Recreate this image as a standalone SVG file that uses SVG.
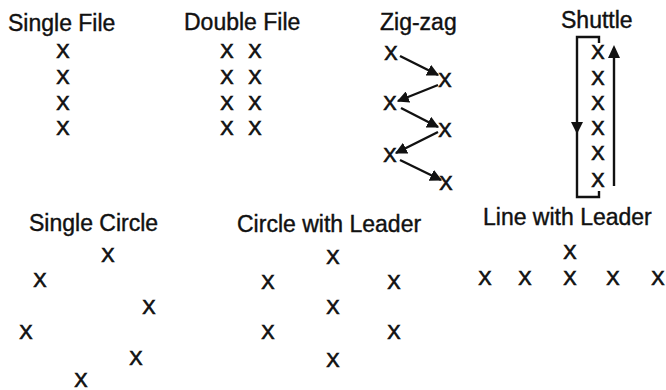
<svg xmlns="http://www.w3.org/2000/svg" width="666" height="390" viewBox="0 0 666 390">
<style>
.t{font-family:"Liberation Sans",Arial,sans-serif;font-size:23px;fill:#111;stroke:#111;stroke-width:0.4}
.x{font-family:"Liberation Sans",Arial,sans-serif;font-size:20px;fill:#111;stroke:#111;stroke-width:0.7;text-anchor:middle}
.ln{stroke:#111;stroke-width:2.4;fill:none}
</style>
<defs>
<marker id="ah" viewBox="0 0 10 10" refX="9" refY="5" markerWidth="5" markerHeight="5" markerUnits="strokeWidth" orient="auto">
<path d="M0,0 L10,5 L0,10 z" fill="#111"/>
</marker>
</defs>
<rect width="666" height="390" fill="#fff"/>
<g id="single-file">
<text class="t" x="8" y="31">Single File</text>
<text class="x" x="63" y="58">X</text>
<text class="x" x="63" y="84">X</text>
<text class="x" x="63" y="110">X</text>
<text class="x" x="63" y="135">X</text>
</g>
<g id="double-file">
<text class="t" x="184" y="30">Double File</text>
<text class="x" x="227" y="58">X</text><text class="x" x="255" y="58">X</text>
<text class="x" x="227" y="84">X</text><text class="x" x="255" y="84">X</text>
<text class="x" x="227" y="110">X</text><text class="x" x="255" y="110">X</text>
<text class="x" x="227" y="135">X</text><text class="x" x="255" y="135">X</text>
</g>
<g id="zig-zag">
<text class="t" x="380" y="30">Zig-zag</text>
<text class="x" x="391" y="60">X</text>
<text class="x" x="445" y="87">X</text>
<text class="x" x="390" y="110">X</text>
<text class="x" x="445" y="137">X</text>
<text class="x" x="390" y="162">X</text>
<text class="x" x="446" y="190">X</text>
</g>
<g id="shuttle">
<text class="t" x="561" y="28">Shuttle</text>
<text class="x" x="598" y="59">X</text>
<text class="x" x="598" y="85">X</text>
<text class="x" x="598" y="110">X</text>
<text class="x" x="598" y="135">X</text>
<text class="x" x="598" y="160">X</text>
<text class="x" x="598" y="187">X</text>
</g>
<g id="single-circle">
<text class="t" x="29" y="231">Single Circle</text>
<text class="x" x="108" y="262">X</text>
<text class="x" x="40" y="287">X</text>
<text class="x" x="149" y="314">X</text>
<text class="x" x="26" y="339">X</text>
<text class="x" x="136" y="365">X</text>
<text class="x" x="81" y="387">X</text>
</g>
<g id="circle-with-leader">
<text class="t" x="237" y="232">Circle with Leader</text>
<text class="x" x="333" y="264">X</text>
<text class="x" x="268" y="289">X</text>
<text class="x" x="394" y="289">X</text>
<text class="x" x="333" y="314">X</text>
<text class="x" x="268" y="339">X</text>
<text class="x" x="394" y="339">X</text>
<text class="x" x="333" y="367">X</text>
</g>
<g id="line-with-leader">
<text class="t" x="483" y="225">Line with Leader</text>
<text class="x" x="570" y="259">X</text>
<text class="x" x="485" y="285">X</text>
<text class="x" x="525" y="285">X</text>
<text class="x" x="570" y="285">X</text>
<text class="x" x="613" y="285">X</text>
<text class="x" x="658" y="285">X</text>
</g>
<g id="connectors">
<line class="ln" x1="400" y1="56" x2="438" y2="75" marker-end="url(#ah)"/>
<line class="ln" x1="438" y1="85" x2="398" y2="101" marker-end="url(#ah)"/>
<line class="ln" x1="401" y1="108" x2="438" y2="127" marker-end="url(#ah)"/>
<line class="ln" x1="438" y1="132" x2="396" y2="153" marker-end="url(#ah)"/>
<line class="ln" x1="400" y1="160" x2="441" y2="180" marker-end="url(#ah)"/>
<path class="ln" d="M599,43 V37 H577 V197 H599 V191"/>
<path d="M571,122 L583,122 L577,134 z" fill="#111"/>
<line class="ln" x1="614" y1="186" x2="614" y2="55"/>
<path d="M608,58 L620,58 L614,45 z" fill="#111"/>
</g>
</svg>
